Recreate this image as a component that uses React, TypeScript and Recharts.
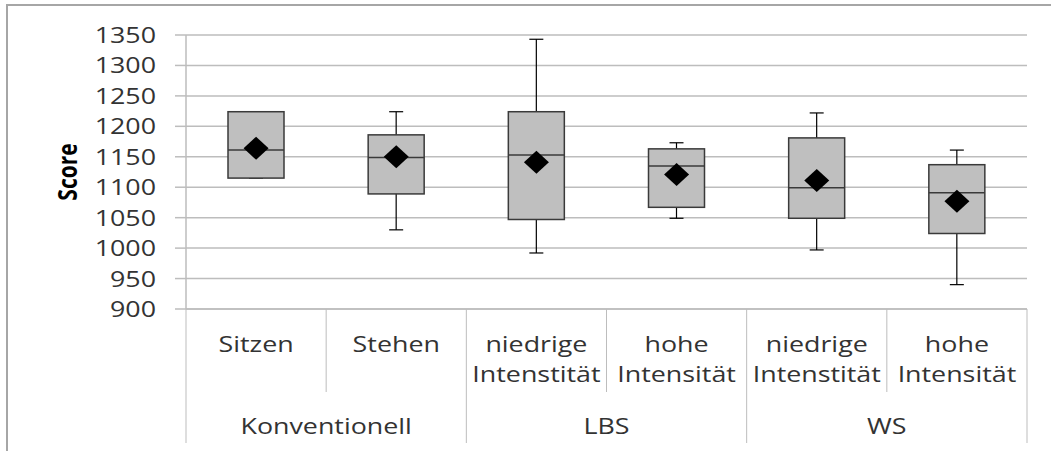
import { ComposedChart, Bar, Scatter, XAxis, YAxis, CartesianGrid, Label } from 'recharts';

const categories = ['Sitzen', 'Stehen', 'niedrige Intenstität', 'hohe Intensität', 'niedrige Intenstität', 'hohe Intensität'];
const groups = ['Konventionell', 'Konventionell', 'LBS', 'LBS', 'WS', 'WS'];

const minValues = [1115, 1030, 992, 1049, 997, 940];
const q1Values = [1115, 1089, 1047, 1067, 1049, 1024];
const medianValues = [1161, 1149, 1153, 1135, 1099, 1091];
const q3Values = [1224, 1186, 1224, 1163, 1181, 1137];
const maxValues = [1224, 1224, 1343, 1173, 1222, 1161];
const meanValues = [1164, 1150, 1141, 1121, 1111, 1077];

const yTicks = [900, 950, 1000, 1050, 1100, 1150, 1200, 1250, 1300, 1350];

const data = categories.map((label, i) => ({
  key: `${groups[i]}|${label}`,
  label,
  group: groups[i],
  min: minValues[i],
  q1: q1Values[i],
  median: medianValues[i],
  q3: q3Values[i],
  max: maxValues[i],
  mean: meanValues[i],
}));

const SX = 1.22;
const TEXT = '#333333';
const GRID = '#bdbdbd';
const FONT = 'Open Sans';

function BoxShape(props: any) {
  const { x, y, width, height, payload } = props;
  if (x == null || y == null) return null;
  const top = Math.min(y, y + height);
  const bottom = Math.max(y, y + height);
  const span = payload.max - payload.min;
  const py = (v: number) => (span === 0 ? top : bottom - ((v - payload.min) / span) * (bottom - top));
  const cx = x + width / 2;
  const cap = 7;
  const yq1 = py(payload.q1);
  const yq3 = py(payload.q3);
  const ymed = py(payload.median);
  return (
    <g>
      <line x1={cx} x2={cx} y1={top} y2={bottom} stroke="#000" strokeWidth={1.2} />
      <line x1={cx - cap} x2={cx + cap} y1={top} y2={top} stroke="#000" strokeWidth={1.2} />
      <line x1={cx - cap} x2={cx + cap} y1={bottom} y2={bottom} stroke="#000" strokeWidth={1.2} />
      <rect x={x} y={yq3} width={width} height={yq1 - yq3} fill="#bfbfbf" stroke="#3a3a3a" strokeWidth={1.5} />
      <line x1={x} x2={x + width} y1={ymed} y2={ymed} stroke="#3a3a3a" strokeWidth={1.5} />
    </g>
  );
}

function Diamond(props: any) {
  const { cx, cy } = props;
  if (cx == null || cy == null) return null;
  const w = 12.5;
  const h = 11.5;
  return <polygon points={`${cx - w},${cy} ${cx},${cy - h} ${cx + w},${cy} ${cx},${cy + h}`} fill="#000" />;
}

function YTick(props: any) {
  const { x, y, payload } = props;
  return (
    <text transform={`translate(${x},${y}) scale(${SX},1)`} textAnchor="end" dy={8} fontSize={22} fill={TEXT} fontFamily={FONT}>
      {payload.value}
    </text>
  );
}

function CategoryTick(props: any) {
  const { x, y, index, width, visibleTicksCount } = props;
  const count = visibleTicksCount || data.length;
  const band = (width || 841) / count;
  const entry = data[index];
  if (!entry) return null;
  const lines = entry.label.split(' ');
  const left = x - band / 2;
  const groupStart = index === 0 || groups[index - 1] !== groups[index];
  const isLast = index === data.length - 1;
  const groupSize = groups.filter((g) => g === entry.group).length;
  return (
    <g>
      <line x1={left} x2={left} y1={y} y2={y + (groupStart ? 134 : 83)} stroke={GRID} strokeWidth={1} />
      {isLast && <line x1={left + band} x2={left + band} y1={y} y2={y + 134} stroke={GRID} strokeWidth={1} />}
      {lines.map((ln: string, i: number) => (
        <text
          key={i}
          transform={`translate(${x},${y + 43 + i * 30}) scale(${SX},1)`}
          textAnchor="middle"
          fontSize={22}
          fill={TEXT}
          fontFamily={FONT}
        >
          {ln}
        </text>
      ))}
      {groupStart && (
        <text
          transform={`translate(${left + (groupSize * band) / 2},${y + 125}) scale(${SX},1)`}
          textAnchor="middle"
          fontSize={22}
          fill={TEXT}
          fontFamily={FONT}
        >
          {entry.group}
        </text>
      )}
    </g>
  );
}

function ScoreLabel(props: any) {
  const vb = props.viewBox || { x: 0, y: 35, width: 186, height: 274 };
  const cx = vb.x + 67;
  const cy = vb.y + vb.height / 2;
  return (
    <text
      transform={`translate(${cx},${cy}) scale(1.3,1) rotate(-90)`}
      textAnchor="middle"
      dy={7.5}
      fontSize={21}
      fontWeight="bold"
      fill="#000"
      fontFamily={FONT}
    >
      Score
    </text>
  );
}

export default function App() {
  return (
    <div style={{ position: 'relative', width: 1051, height: 451, background: '#fff', overflow: 'hidden' }}>
      <style>{'body{margin:0}'}</style>
      <div
        style={{
          position: 'absolute',
          left: 6,
          top: 4,
          right: -10,
          bottom: -10,
          borderTop: '2px solid #a6a6a6',
          borderLeft: '2px solid #a6a6a6',
        }}
      />
      <div style={{ position: 'absolute', left: 0, top: 0 }}>
        <ComposedChart width={1051} height={451} data={data} margin={{ top: 35, right: 24, left: 0, bottom: 0 }}>
          <CartesianGrid vertical={false} stroke={GRID} strokeWidth={1.5} />
          <XAxis
            dataKey="key"
            interval={0}
            height={142}
            tickLine={false}
            tickSize={0}
            tickMargin={0}
            axisLine={{ stroke: GRID, strokeWidth: 1.5 }}
            tick={<CategoryTick />}
          />
          <YAxis
            domain={[900, 1350]}
            ticks={yTicks}
            interval={0}
            width={186}
            tickSize={11}
            tickMargin={19}
            axisLine={{ stroke: GRID, strokeWidth: 1.5 }}
            tickLine={{ stroke: GRID, strokeWidth: 1.5 }}
            tick={<YTick />}
          >
            <Label content={<ScoreLabel />} />
          </YAxis>
          <Bar dataKey={(d: any) => [d.min, d.max]} barSize={56} shape={<BoxShape />} isAnimationActive={false} />
          <Scatter dataKey="mean" shape={<Diamond />} isAnimationActive={false} />
        </ComposedChart>
      </div>
    </div>
  );
}
